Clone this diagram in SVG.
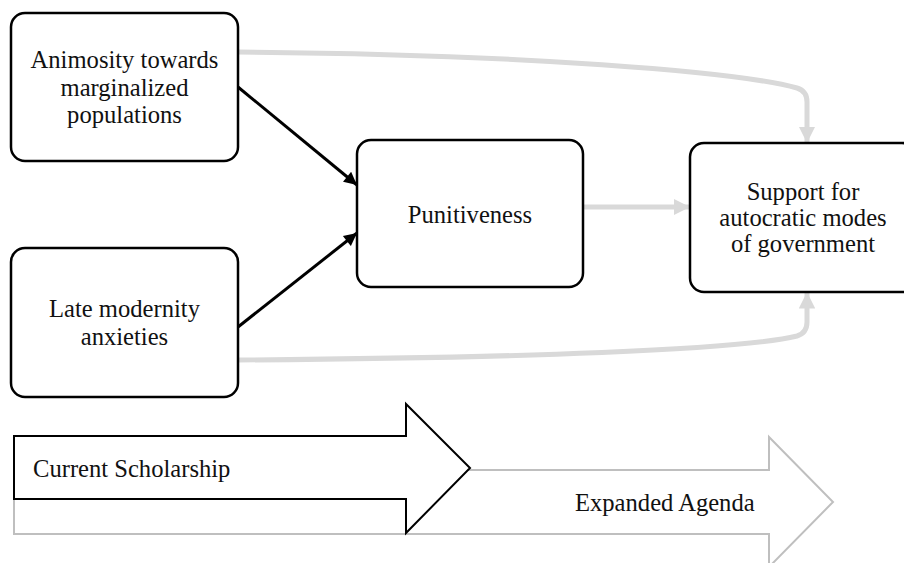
<svg xmlns="http://www.w3.org/2000/svg" width="904" height="563" viewBox="0 0 904 563">
<style>
  .box { fill: #ffffff; stroke: #000000; stroke-width: 2.5; }
  .t { font-family: "Liberation Serif", "Times New Roman", serif; font-size: 24.6px; fill: #111111; }
  .c { text-anchor: middle; }
  .gray { fill: none; stroke: #d9d9d9; stroke-width: 5; }
  .black { fill: none; stroke: #000000; stroke-width: 3; }
</style>
<defs>
  <marker id="ag" viewBox="0 0 10 10" refX="10" refY="5" markerWidth="3.3" markerHeight="3.3" orient="auto" markerUnits="strokeWidth">
    <path d="M0,0 L10,5 L0,10 Z" fill="#d9d9d9"/>
  </marker>
  <marker id="ab" viewBox="0 0 10 10" refX="10" refY="5" markerWidth="5" markerHeight="4.3" orient="auto" markerUnits="strokeWidth">
    <path d="M0,0 L10,5 L0,10 Z" fill="#000000"/>
  </marker>
</defs>

<g id="band-expanded">
  <polygon points="14,470 769,470 769,437 833,502 769,567 769,534 14,534" fill="#ffffff" stroke="#bfbfbf" stroke-width="2"/>
  <text class="t" x="575" y="511">Expanded Agenda</text>
</g>
<g id="band-current">
  <polygon points="14,436 406,436 406,404 470,468 406,533 406,499 14,499" fill="#ffffff" stroke="#000000" stroke-width="2"/>
  <text class="t" x="33" y="477">Current Scholarship</text>
</g>

<g id="connectors">
  <path class="gray" d="M238,52 C520,54 740,72 797,88 Q807,91 807,102 L807,143" marker-end="url(#ag)"/>
  <path class="gray" d="M238,360 C520,358 740,350 797,336 Q807,333 807,322 L807,292" marker-end="url(#ag)"/>
  <path class="gray" d="M583,207 L690,207" marker-end="url(#ag)"/>
  <path class="black" d="M238,87 L357,185" marker-end="url(#ab)"/>
  <path class="black" d="M238,327 L357,233" marker-end="url(#ab)"/>
</g>

<g id="node-animosity">
  <rect class="box" x="11" y="13" width="227" height="148" rx="14"/>
  <text class="t c" x="124.5" y="68">Animosity towards</text>
  <text class="t c" x="124.5" y="96">marginalized</text>
  <text class="t c" x="124.5" y="123">populations</text>
</g>
<g id="node-late">
  <rect class="box" x="11" y="248" width="227" height="149" rx="14"/>
  <text class="t c" x="124.5" y="317">Late modernity</text>
  <text class="t c" x="124.5" y="345">anxieties</text>
</g>
<g id="node-punitiveness">
  <rect class="box" x="357" y="140" width="226" height="147" rx="14"/>
  <text class="t c" x="470" y="223">Punitiveness</text>
</g>
<g id="node-support">
  <rect class="box" x="690" y="143" width="226" height="149" rx="14"/>
  <text class="t c" x="803" y="200">Support for</text>
  <text class="t c" x="803" y="226">autocratic modes</text>
  <text class="t c" x="803" y="252">of government</text>
</g>
</svg>
